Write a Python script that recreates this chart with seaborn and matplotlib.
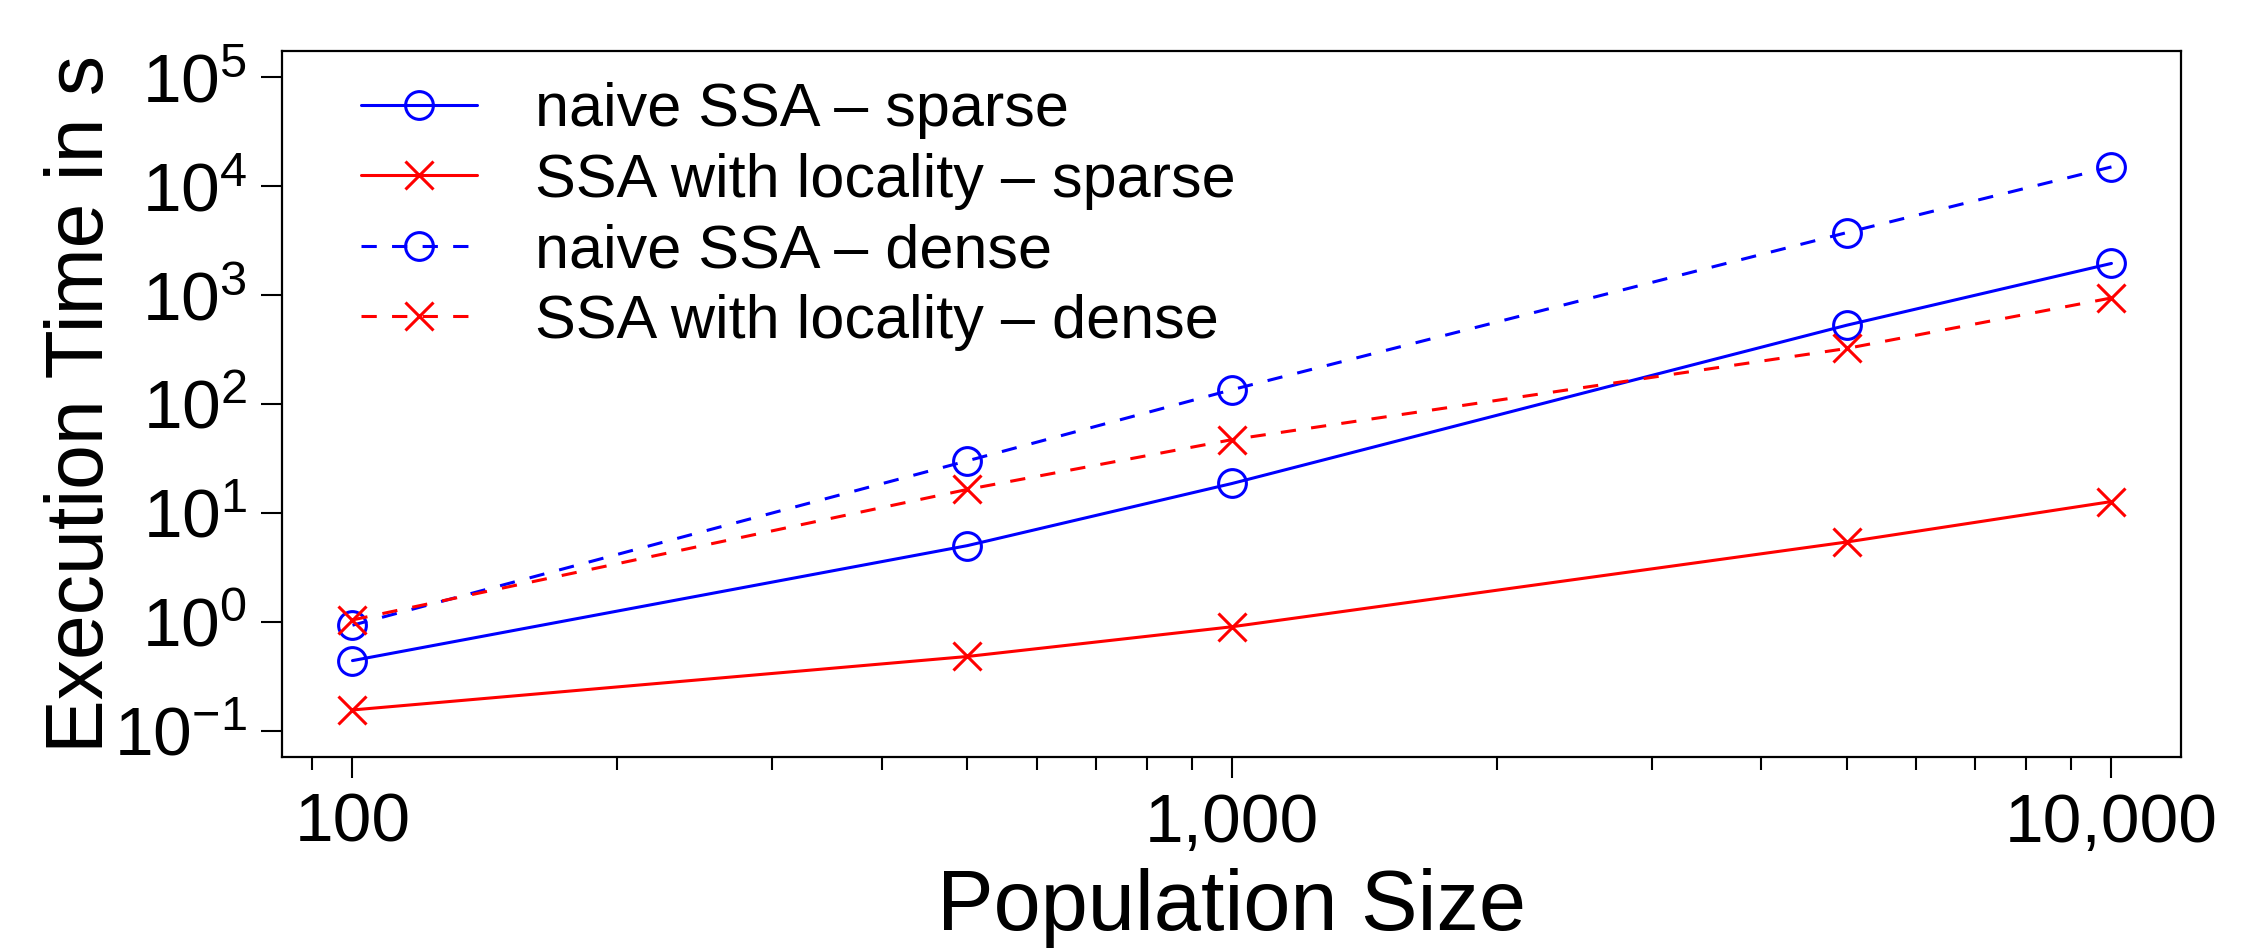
import numpy as np
import pandas as pd
import matplotlib
matplotlib.use('Agg')
import matplotlib.pyplot as plt
from matplotlib.ticker import FuncFormatter, LogLocator, NullLocator
import seaborn as sns

# data
population = [100, 500, 1000, 5000, 10000]
naive_sparse = [0.44, 5.0, 18.6, 528, 1950]
locality_sparse = [0.155, 0.48, 0.9, 5.4, 12.7]
naive_dense = [0.93, 30, 135, 3740, 15000]
locality_dense = [1.04, 16.4, 47, 323, 940]

series_names = [
    'naive SSA \u2013 sparse',
    'SSA with locality \u2013 sparse',
    'naive SSA \u2013 dense',
    'SSA with locality \u2013 dense',
]
series_values = [naive_sparse, locality_sparse, naive_dense, locality_dense]
series_colors = ['#0000FF', '#FF0000', '#0000FF', '#FF0000']
series_markers = ['o', 'x', 'o', 'x']
series_styles = ['-', '-', '--', '--']

sns.set_style('ticks')
plt.rcParams['font.family'] = ['Liberation Sans', 'DejaVu Sans']
plt.rcParams['mathtext.fontset'] = 'custom'
plt.rcParams['mathtext.rm'] = 'Liberation Sans'
plt.rcParams['mathtext.it'] = 'Liberation Sans'
plt.rcParams['mathtext.bf'] = 'Liberation Sans'
for key in ['text.color', 'axes.labelcolor', 'xtick.color', 'ytick.color']:
    plt.rcParams[key] = 'black'

fig = plt.figure(figsize=(22.57, 9.52), dpi=100)
ax = fig.add_axes([0.125, 0.205, 0.8413, 0.7414])

for name, vals, col, mk, ls in zip(series_names, series_values, series_colors,
                                   series_markers, series_styles):
    df = pd.DataFrame({'pop': population, 'time': vals})
    sns.lineplot(data=df, x='pop', y='time', ax=ax, color=col, marker=mk,
                 linestyle=ls, linewidth=2.2, markersize=20,
                 markerfacecolor='none', markeredgecolor=col,
                 markeredgewidth=2.2, label=name)
    if ls == '--':
        ax.lines[-1].set_dashes((5, 5))

ax.set_xscale('log')
ax.set_yscale('log')
ax.set_xlim(10 ** 1.92, 10 ** 4.079)
ax.set_ylim(10 ** -1.24, 10 ** 5.24)

ax.xaxis.set_major_locator(LogLocator(base=10, numticks=10))
ax.xaxis.set_minor_locator(LogLocator(base=10, subs=np.arange(2, 10), numticks=20))
ax.xaxis.set_major_formatter(FuncFormatter(lambda v, p: f'{v:,.0f}'))
ax.yaxis.set_major_locator(LogLocator(base=10, numticks=12))
ax.yaxis.set_minor_locator(NullLocator())

ax.tick_params(axis='both', which='major', labelsize=50, length=15, width=1.5,
               pad=10, color='black')
ax.tick_params(axis='x', which='minor', length=9.5, width=1.5, color='black')
for sp in ax.spines.values():
    sp.set_visible(True)
    sp.set_linewidth(1.6)
    sp.set_color('black')

ax.set_xlabel('Population Size', fontsize=61, labelpad=9)
ax.set_ylabel('Execution Time in s', fontsize=58, labelpad=-4)

ax.legend(loc='upper left', frameon=False, fontsize=44, handlelength=1.9,
          handletextpad=0.95, labelspacing=0.22, borderaxespad=0.11,
          bbox_to_anchor=(0.025, 1.0))

fig.savefig('out.png', dpi=100)
